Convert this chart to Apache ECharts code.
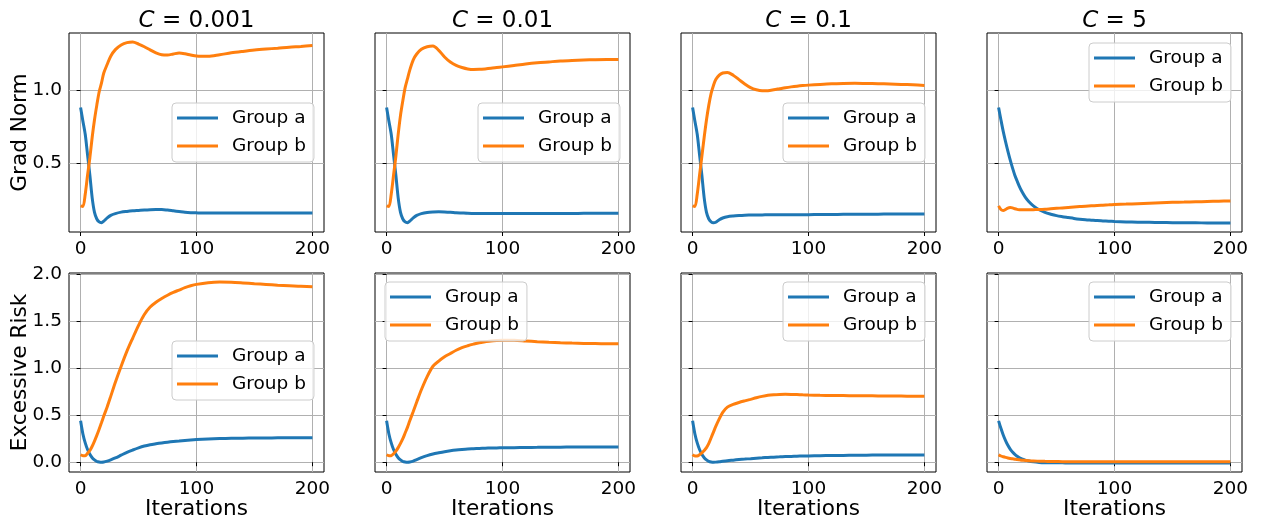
<!DOCTYPE html>
<html>
<head>
<meta charset="utf-8">
<script src="https://cdn.jsdelivr.net/npm/echarts@6/dist/echarts.min.js"></script>
<style>
  html, body { margin: 0; padding: 0; background: #fff; }
  #chart { width: 1261px; height: 520px; }
</style>
</head>
<body>
<div id="chart"></div>
<script>
var iters = [0, 2, 4, 6, 8, 10, 12, 14, 16, 18,
  20, 23, 26, 30, 35, 40, 45, 50, 55, 60,
  65, 70, 75, 80, 85, 90, 95, 100,
  110, 120, 130, 140, 150, 160, 170, 180, 190, 200];

var cLabels = ['0.001', '0.01', '0.1', '5'];
var xTicks = [0, 100, 200];
var gradTicks = [0.5, 1.0];
var riskTicks = [0, 0.5, 1.0, 1.5, 2.0];

// Grad Norm
var gradA_C0001 = [0.884, 0.79, 0.70, 0.56, 0.42, 0.265, 0.165, 0.12, 0.10, 0.095,
  0.105, 0.128, 0.145, 0.157, 0.167, 0.172, 0.176, 0.179, 0.182, 0.184,
  0.185, 0.185, 0.181, 0.176, 0.171, 0.166, 0.163, 0.162,
  0.161, 0.161, 0.161, 0.161, 0.161, 0.161, 0.161, 0.161, 0.161, 0.161];
var gradB_C0001 = [0.21, 0.205, 0.29, 0.42, 0.54, 0.68, 0.80, 0.90, 0.99, 1.05,
  1.12, 1.18, 1.235, 1.28, 1.312, 1.328, 1.332, 1.318, 1.30, 1.278,
  1.258, 1.245, 1.243, 1.25, 1.257, 1.252, 1.243, 1.236,
  1.234, 1.245, 1.258, 1.268, 1.277, 1.284, 1.29, 1.297, 1.302, 1.308];
var gradA_C001 = [0.884, 0.79, 0.70, 0.56, 0.42, 0.265, 0.165, 0.12, 0.10, 0.095,
  0.105, 0.128, 0.145, 0.157, 0.165, 0.168, 0.169, 0.168, 0.166, 0.163,
  0.161, 0.159, 0.158, 0.157, 0.157, 0.157, 0.157, 0.157,
  0.157, 0.157, 0.158, 0.158, 0.158, 0.158, 0.159, 0.159, 0.159, 0.159];
var gradB_C001 = [0.21, 0.205, 0.29, 0.42, 0.55, 0.70, 0.83, 0.93, 1.02, 1.08,
  1.14, 1.21, 1.25, 1.282, 1.30, 1.305, 1.275, 1.23, 1.195, 1.172,
  1.158, 1.148, 1.144, 1.145, 1.148, 1.152, 1.157, 1.162,
  1.172, 1.182, 1.19, 1.196, 1.202, 1.206, 1.209, 1.211, 1.212, 1.212];
var gradA_C01 = [0.884, 0.79, 0.70, 0.56, 0.42, 0.265, 0.165, 0.12, 0.10, 0.094,
  0.098, 0.115, 0.127, 0.136, 0.141, 0.144, 0.146, 0.147, 0.148, 0.148,
  0.149, 0.149, 0.149, 0.15, 0.15, 0.15, 0.15, 0.15,
  0.151, 0.151, 0.152, 0.152, 0.153, 0.153, 0.154, 0.154, 0.155, 0.155];
var gradB_C01 = [0.21, 0.205, 0.29, 0.42, 0.55, 0.68, 0.80, 0.90, 0.98, 1.035,
  1.075, 1.105, 1.12, 1.124, 1.105, 1.075, 1.045, 1.02, 1.005, 0.998,
  0.999, 1.005, 1.012, 1.019, 1.025, 1.03, 1.034, 1.037,
  1.042, 1.046, 1.048, 1.049, 1.048, 1.047, 1.045, 1.042, 1.039, 1.035];
var gradA_C5 = [0.884, 0.80, 0.72, 0.65, 0.585, 0.525, 0.47, 0.42, 0.38, 0.342,
  0.31, 0.27, 0.24, 0.21, 0.183, 0.165, 0.153, 0.143, 0.136, 0.13,
  0.124, 0.119, 0.115, 0.112, 0.109, 0.107, 0.105, 0.103,
  0.10, 0.098, 0.097, 0.096, 0.095, 0.094, 0.094, 0.093, 0.093, 0.093];
var gradB_C5 = [0.21, 0.185, 0.178, 0.185, 0.195, 0.198, 0.196, 0.19, 0.186, 0.184,
  0.183, 0.183, 0.183, 0.184, 0.185, 0.187, 0.19, 0.193, 0.196, 0.199,
  0.202, 0.205, 0.208, 0.21, 0.213, 0.215, 0.217, 0.219,
  0.222, 0.225, 0.228, 0.231, 0.234, 0.236, 0.238, 0.24, 0.242, 0.244];

// Excessive Risk
var riskA_C0001 = [0.44, 0.30, 0.205, 0.135, 0.085, 0.048, 0.025, 0.01, 0.003, 0.0,
  0.002, 0.012, 0.025, 0.045, 0.075, 0.105, 0.13, 0.153, 0.172, 0.186,
  0.196, 0.205, 0.213, 0.22, 0.226, 0.232, 0.237, 0.241,
  0.247, 0.251, 0.254, 0.256, 0.257, 0.258, 0.259, 0.259, 0.259, 0.259];
var riskB_C0001 = [0.08, 0.07, 0.07, 0.095, 0.125, 0.17, 0.225, 0.285, 0.35, 0.42,
  0.49, 0.59, 0.70, 0.85, 1.02, 1.18, 1.32, 1.455, 1.57, 1.65,
  1.70, 1.74, 1.775, 1.805, 1.83, 1.855, 1.875, 1.89,
  1.908, 1.915, 1.912, 1.905, 1.897, 1.89, 1.882, 1.876, 1.869, 1.865];
var riskA_C001 = [0.44, 0.30, 0.205, 0.135, 0.085, 0.048, 0.025, 0.01, 0.003, 0.0,
  0.002, 0.012, 0.028, 0.048, 0.07, 0.087, 0.10, 0.112, 0.122, 0.13,
  0.136, 0.141, 0.144, 0.147, 0.149, 0.151, 0.152, 0.153,
  0.155, 0.157, 0.158, 0.159, 0.16, 0.161, 0.162, 0.162, 0.163, 0.163];
var riskB_C001 = [0.08, 0.07, 0.07, 0.09, 0.117, 0.155, 0.20, 0.25, 0.31, 0.37,
  0.44, 0.54, 0.64, 0.77, 0.91, 1.02, 1.075, 1.12, 1.155, 1.19,
  1.218, 1.238, 1.255, 1.27, 1.28, 1.289, 1.294, 1.297,
  1.295, 1.288, 1.281, 1.275, 1.27, 1.266, 1.263, 1.261, 1.259, 1.258];
var riskA_C01 = [0.44, 0.30, 0.205, 0.135, 0.085, 0.048, 0.025, 0.01, 0.003, 0.0,
  0.001, 0.005, 0.01, 0.016, 0.022, 0.028, 0.033, 0.038, 0.043, 0.047,
  0.051, 0.054, 0.057, 0.06, 0.062, 0.064, 0.066, 0.067,
  0.069, 0.071, 0.072, 0.074, 0.075, 0.076, 0.077, 0.077, 0.078, 0.078];
var riskB_C01 = [0.08, 0.066, 0.066, 0.08, 0.10, 0.125, 0.155, 0.20, 0.26, 0.32,
  0.38, 0.46, 0.53, 0.585, 0.615, 0.635, 0.652, 0.668, 0.685, 0.70,
  0.712, 0.718, 0.721, 0.722, 0.721, 0.719, 0.716, 0.714,
  0.711, 0.709, 0.708, 0.707, 0.706, 0.705, 0.704, 0.703, 0.702, 0.702];
var riskA_C5 = [0.44, 0.36, 0.29, 0.23, 0.18, 0.14, 0.108, 0.083, 0.063, 0.047,
  0.035, 0.022, 0.012, 0.004, -0.002, -0.005, -0.006, -0.007, -0.007, -0.008,
  -0.008, -0.008, -0.008, -0.008, -0.008, -0.008, -0.008, -0.008,
  -0.008, -0.008, -0.008, -0.008, -0.008, -0.008, -0.008, -0.008, -0.008, -0.008];
var riskB_C5 = [0.08, 0.066, 0.058, 0.051, 0.045, 0.04, 0.036, 0.032, 0.028, 0.025,
  0.022, 0.019, 0.016, 0.013, 0.011, 0.009, 0.008, 0.007, 0.006, 0.006,
  0.005, 0.005, 0.005, 0.005, 0.005, 0.005, 0.005, 0.005,
  0.005, 0.005, 0.005, 0.005, 0.005, 0.005, 0.005, 0.005, 0.005, 0.005];

var FONT = 'DejaVu Sans';
var BLUE = '#1f77b4';
var ORANGE = '#ff7f0e';

// panel layout (matplotlib-like 2x4 subplots)
var colLeft = [69, 375, 681, 987];
var panelW = 255;
var rowTop = [33, 273];
var panelH = 199;

var rows = [
  { name: 'Grad Norm', min: 0.031, max: 1.394, ticks: gradTicks,
    a: [gradA_C0001, gradA_C001, gradA_C01, gradA_C5],
    b: [gradB_C0001, gradB_C001, gradB_C01, gradB_C5] },
  { name: 'Excessive Risk', min: -0.104, max: 2.011, ticks: riskTicks,
    a: [riskA_C0001, riskA_C001, riskA_C01, riskA_C5],
    b: [riskB_C0001, riskB_C001, riskB_C01, riskB_C5] }
];

// legend boxes: [left, top]
var legendPos = [
  [[172, 103], [478, 103], [783, 103], [1089, 43]],
  [[172, 341], [385, 282], [783, 282], [1089, 282]]
];

function pairs(ys) {
  return iters.map(function (x, i) { return [x, ys[i]]; });
}

var grid = [], xAxis = [], yAxis = [], series = [], legend = [], graphic = [];

rows.forEach(function (row, r) {
  for (var c = 0; c < 4; c++) {
    var k = r * 4 + c;
    grid.push({
      left: colLeft[c], top: rowTop[r], width: panelW, height: panelH,
      show: true, borderColor: '#000', borderWidth: 1,
      backgroundColor: 'transparent', outerBoundsMode: 'none'
    });
    xAxis.push({
      gridIndex: k, type: 'value', min: -10, max: 210,
      axisLine: { show: false },
      axisTick: { show: true, length: 4, customValues: xTicks, lineStyle: { color: '#000' } },
      axisLabel: { customValues: xTicks, fontSize: 18.5, color: '#000', fontFamily: FONT, margin: 8 },
      splitLine: { show: true, lineStyle: { color: '#b0b0b0', width: 1 } },
      name: r === 1 ? 'Iterations' : '',
      nameLocation: 'middle', nameGap: 26, nameMoveOverlap: false,
      nameTextStyle: { fontSize: 21.6, color: '#000', fontFamily: FONT }
    });
    yAxis.push({
      gridIndex: k, type: 'value', min: row.min, max: row.max,
      axisLine: { show: false },
      axisTick: { show: true, length: 4, customValues: row.ticks, lineStyle: { color: '#000' } },
      axisLabel: {
        show: c === 0, customValues: row.ticks, fontSize: 18.5, color: '#000',
        fontFamily: FONT, margin: 7,
        formatter: function (v) { return v.toFixed(1); }
      },
      splitLine: { show: true, lineStyle: { color: '#b0b0b0', width: 1 } },
      name: c === 0 ? row.name : '',
      nameLocation: 'middle', nameRotate: 90, nameGap: 38, nameMoveOverlap: false,
      nameTextStyle: { fontSize: 21.6, color: '#000', fontFamily: FONT }
    });
    series.push({
      name: 'Group a', type: 'line', xAxisIndex: k, yAxisIndex: k,
      data: pairs(row.a[c]), showSymbol: false, smooth: 0.3,
      lineStyle: { width: 3, color: BLUE }, itemStyle: { color: BLUE }
    });
    series.push({
      name: 'Group b', type: 'line', xAxisIndex: k, yAxisIndex: k,
      data: pairs(row.b[c]), showSymbol: false, smooth: 0.3,
      lineStyle: { width: 3, color: ORANGE }, itemStyle: { color: ORANGE }
    });
    legend.push({
      data: ['Group a', 'Group b'], orient: 'vertical',
      left: legendPos[r][c][0], top: legendPos[r][c][1],
      icon: 'rect', itemWidth: 41, itemHeight: 3, itemGap: 8,
      padding: [5, 8, 6, 5], selectedMode: false,
      backgroundColor: 'rgba(255,255,255,0.8)', borderColor: '#cccccc',
      borderWidth: 1, borderRadius: 4,
      textStyle: { fontSize: 18.5, color: '#000', fontFamily: FONT, lineHeight: 20, padding: [0, 0, 0, 9] }
    });
  }
});

// subplot titles with italic C
cLabels.forEach(function (lab, c) {
  graphic.push({
    type: 'text', x: colLeft[c] + panelW / 2, y: 21,
    style: {
      text: '{i|C} = ' + lab, align: 'center', verticalAlign: 'middle',
      fontSize: 23, fontFamily: FONT, fill: '#000',
      rich: { i: { fontStyle: 'italic', fontSize: 23, fontFamily: FONT, fill: '#000' } }
    }
  });
});

var myChart = echarts.init(document.getElementById('chart'), null, { renderer: 'canvas' });
var option = {
  backgroundColor: '#fff',
  animation: false,
  grid: grid,
  xAxis: xAxis,
  yAxis: yAxis,
  legend: legend,
  graphic: graphic,
  series: series
};
myChart.setOption(option);
</script>
</body>
</html>
